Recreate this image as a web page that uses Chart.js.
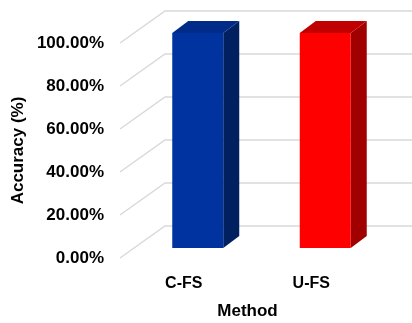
<!DOCTYPE html>
<html>
<head>
<meta charset="utf-8">
<script src="https://cdn.jsdelivr.net/npm/chart.js@4/dist/chart.umd.min.js"></script>
<style>
  html, body { margin: 0; padding: 0; background: #ffffff; }
  #wrap { width: 412px; height: 323px; }
</style>
</head>
<body>
<div id="wrap"><canvas id="c" width="412" height="323"></canvas></div>
<script>
// Categories and accuracy values (%)
const methods = ['C-FS', 'U-FS'];
const accuracy = [100, 100];
const yTicks = [0, 20, 40, 60, 80, 100];

// Face colours for the extruded columns
const frontColors = ['#0033A0', '#FF0000'];
const sideColors = ['#002060', '#A00000'];
const topColors = ['#002B88', '#C00000'];

// 3D geometry (pixels)
const WALL_DX = 45, WALL_DY = -32;   // depth of the side wall / back wall
const BAR_DX = 14, BAR_DY = -10;     // where the bar front sits inside the depth
const BAR_DEPTH_X = 16, BAR_DEPTH_Y = -12;

const FONT = '"Liberation Sans", Arial, sans-serif';

const wallPlugin = {
  id: 'wall3d',
  beforeDatasetsDraw(chart) {
    const {ctx, chartArea, scales} = chart;
    const y = scales.y;
    ctx.save();
    ctx.strokeStyle = '#D9D9D9';
    ctx.lineWidth = 1.5;
    yTicks.forEach(v => {
      const py = y.getPixelForValue(v);
      ctx.beginPath();
      ctx.moveTo(chartArea.left, py);
      ctx.lineTo(chartArea.left + WALL_DX, py + WALL_DY);
      ctx.lineTo(chartArea.right + WALL_DX, py + WALL_DY);
      ctx.stroke();
    });
    ctx.restore();
  },
  beforeDatasetDraw(chart, args) {
    const {ctx} = chart;
    const meta = chart.getDatasetMeta(args.index);
    ctx.save();
    ctx.translate(BAR_DX, BAR_DY);
    meta.data.forEach((bar, i) => {
      const {x, y, base, width} = bar.getProps(['x', 'y', 'base', 'width'], true);
      const l = x - width / 2, r = x + width / 2;
      // right side face
      ctx.fillStyle = sideColors[i];
      ctx.beginPath();
      ctx.moveTo(r, y);
      ctx.lineTo(r + BAR_DEPTH_X, y + BAR_DEPTH_Y);
      ctx.lineTo(r + BAR_DEPTH_X, base + BAR_DEPTH_Y);
      ctx.lineTo(r, base);
      ctx.closePath();
      ctx.fill();
      // top face
      ctx.fillStyle = topColors[i];
      ctx.beginPath();
      ctx.moveTo(l, y);
      ctx.lineTo(l + BAR_DEPTH_X, y + BAR_DEPTH_Y);
      ctx.lineTo(r + BAR_DEPTH_X, y + BAR_DEPTH_Y);
      ctx.lineTo(r, y);
      ctx.closePath();
      ctx.fill();
    });
  },
  afterDatasetDraw(chart) {
    chart.ctx.restore();
  }
};

new Chart(document.getElementById('c'), {
  type: 'bar',
  data: {
    labels: methods,
    datasets: [{
      label: 'Accuracy',
      data: accuracy,
      backgroundColor: frontColors,
      borderWidth: 0,
      barPercentage: 0.4,
      categoryPercentage: 1.0,
      clip: false
    }]
  },
  options: {
    responsive: false,
    animation: false,
    devicePixelRatio: 1,
    layout: { padding: { top: 43, right: 37, left: 0, bottom: 0 } },
    plugins: {
      legend: { display: false },
      tooltip: { enabled: false }
    },
    scales: {
      x: {
        grid: { display: false, drawTicks: false },
        border: { display: false },
        ticks: {
          color: '#000000',
          font: { family: FONT, size: 16, weight: 'bold' },
          padding: 16
        },
        title: {
          display: true,
          text: 'Method',
          color: '#000000',
          font: { family: FONT, size: 17, weight: 'bold' },
          padding: { top: 4, bottom: 1 }
        },
        afterFit(scale) { scale.height = 65; }
      },
      y: {
        min: 0,
        max: 100,
        grid: { display: false, drawTicks: false },
        border: { display: false },
        ticks: {
          stepSize: 20,
          color: '#000000',
          font: { family: FONT, size: 17, weight: 'bold' },
          padding: 16,
          callback: v => v.toFixed(2) + '%'
        },
        title: {
          display: true,
          text: 'Accuracy (%)',
          color: '#000000',
          font: { family: FONT, size: 17, weight: 'bold' },
          padding: { top: 8, bottom: 0 }
        },
        afterFit(scale) { scale.width = 120; }
      }
    }
  },
  plugins: [wallPlugin]
});
</script>
</body>
</html>
